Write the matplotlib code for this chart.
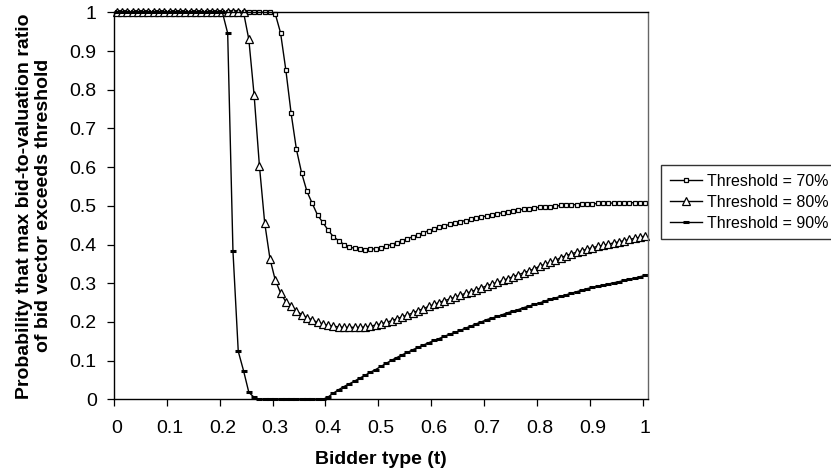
"""Probability that the max bid-to-valuation ratio exceeds a threshold, by bidder type."""

import numpy as np
import matplotlib
matplotlib.use("Agg")
import matplotlib.pyplot as plt

plt.rcParams["font.family"] = ["Liberation Sans", "DejaVu Sans"]

# bidder type grid, t = 0.00 .. 1.00 in steps of 0.01
bidder_type = np.linspace(0.0, 1.0, 101)

thr_70 = [1.0] * 30 + [
    0.996, 0.947, 0.851, 0.739, 0.646, 0.584, 0.537, 0.506, 0.476, 0.457,
    0.437, 0.420, 0.410, 0.400, 0.394, 0.390, 0.388, 0.387, 0.388, 0.389,
    0.392, 0.396, 0.400, 0.405, 0.410, 0.415, 0.420, 0.425, 0.430, 0.436,
    0.440, 0.444, 0.448, 0.452, 0.456, 0.459, 0.462, 0.465, 0.468, 0.471,
    0.474, 0.477, 0.480, 0.482, 0.485, 0.487, 0.489, 0.491, 0.493, 0.495,
    0.496, 0.497, 0.498, 0.499, 0.501, 0.502, 0.503, 0.503, 0.504, 0.505,
    0.505, 0.506, 0.506, 0.507, 0.507, 0.508, 0.508, 0.508, 0.508, 0.508,
    0.508,
]

thr_80 = [1.0] * 25 + [
    0.930, 0.786, 0.604, 0.456, 0.363,
    0.308, 0.275, 0.252, 0.242, 0.228, 0.219, 0.211, 0.205, 0.199, 0.195,
    0.191, 0.189, 0.187, 0.186, 0.186, 0.186, 0.186, 0.187, 0.189, 0.192,
    0.195, 0.199, 0.203, 0.208, 0.213, 0.218, 0.223, 0.229, 0.234, 0.240,
    0.245, 0.250, 0.255, 0.259, 0.264, 0.269, 0.274, 0.278, 0.283, 0.288,
    0.293, 0.298, 0.302, 0.307, 0.312, 0.317, 0.322, 0.327, 0.332, 0.337,
    0.344, 0.349, 0.354, 0.359, 0.366, 0.371, 0.376, 0.380, 0.384, 0.388,
    0.392, 0.395, 0.398, 0.401, 0.404, 0.407, 0.410, 0.413, 0.416, 0.419,
    0.422,
]

thr_90 = [1.0] * 21 + [
    0.946, 0.383, 0.124, 0.074, 0.018, 0.005, 0.0, 0.0, 0.0,
    0.0, 0.0, 0.0, 0.0, 0.0, 0.0, 0.0, 0.0, 0.0, 0.0,
    0.006, 0.016, 0.025, 0.033, 0.040, 0.047, 0.055, 0.062, 0.070, 0.077,
    0.085, 0.093, 0.101, 0.108, 0.115, 0.121, 0.128, 0.134, 0.140, 0.146,
    0.152, 0.157, 0.163, 0.168, 0.173, 0.178, 0.184, 0.189, 0.195, 0.200,
    0.206, 0.210, 0.214, 0.219, 0.224, 0.228, 0.232, 0.237, 0.241, 0.245,
    0.249, 0.254, 0.258, 0.262, 0.266, 0.270, 0.274, 0.278, 0.282, 0.286,
    0.289, 0.292, 0.295, 0.298, 0.301, 0.304, 0.307, 0.310, 0.313, 0.317,
    0.320,
]

x_labels = ["0", "0.1", "0.2", "0.3", "0.4", "0.5", "0.6", "0.7", "0.8", "0.9", "1"]
y_labels = ["0", "0.1", "0.2", "0.3", "0.4", "0.5", "0.6", "0.7", "0.8", "0.9", "1"]

W, H = 831, 476
fig = plt.figure(figsize=(W / 100, H / 100), dpi=100)
ax = fig.add_axes([114 / W, 1 - 399.3 / H, 534 / W, 387 / H])

common = dict(color="black", lw=1.0, clip_on=False)
ax.plot(bidder_type, thr_70, marker="s", ms=3.2, mfc="white", mec="black", mew=0.9,
        label="Threshold = 70%", **common)
ax.plot(bidder_type, thr_80, marker="^", ms=6, mfc="white", mec="black", mew=0.9,
        label="Threshold = 80%", **common)
ax.plot(bidder_type, thr_90, marker="_", ms=5, mec="black", mew=2.2,
        label="Threshold = 90%", **common)

ax.set_xlim(-0.005, 1.005)
ax.set_ylim(0, 1)

# category-style x axis: tick marks between categories, labels on the category
xt = np.arange(len(x_labels)) * 0.1
ax.set_xticks(xt)
ax.set_xticklabels(x_labels)
ax.set_xticks(xt - 0.005, minor=True)
ax.tick_params(axis="x", which="major", length=0, pad=15, labelsize=14)
ax.tick_params(axis="x", which="minor", length=5, width=0.9, direction="out")

ax.set_yticks(np.arange(len(y_labels)) * 0.1)
ax.set_yticklabels(y_labels)
ax.tick_params(axis="y", length=5, width=0.9, direction="out", pad=7.5, labelsize=14)

for side in ["left", "bottom", "top"]:
    ax.spines[side].set_color("black")
    ax.spines[side].set_linewidth(1.0)
ax.spines["right"].set_color("#666666")
ax.spines["right"].set_linewidth(1.0)

fig.text(381 / W, 1 - 459 / H, "Bidder type (t)", fontsize=14, fontweight="bold",
         ha="center", va="center")
fig.text(34 / W, 1 - 205.8 / H,
         "Probability that max bid-to-valuation ratio\nof bid vector exceeds threshold",
         fontsize=14, fontweight="bold", rotation=90, ha="center", va="center",
         multialignment="center", linespacing=1.2)

leg = ax.legend(loc="upper left", bbox_to_anchor=(661 / W, 1 - 165 / H),
                bbox_transform=fig.transFigure, frameon=True, fancybox=False,
                edgecolor="black", fontsize=11.5, handlelength=2.0, handletextpad=0.3,
                labelspacing=0.37, borderpad=0.55, borderaxespad=0)
leg.get_frame().set_linewidth(1.0)

fig.savefig("out.png", dpi=100)
